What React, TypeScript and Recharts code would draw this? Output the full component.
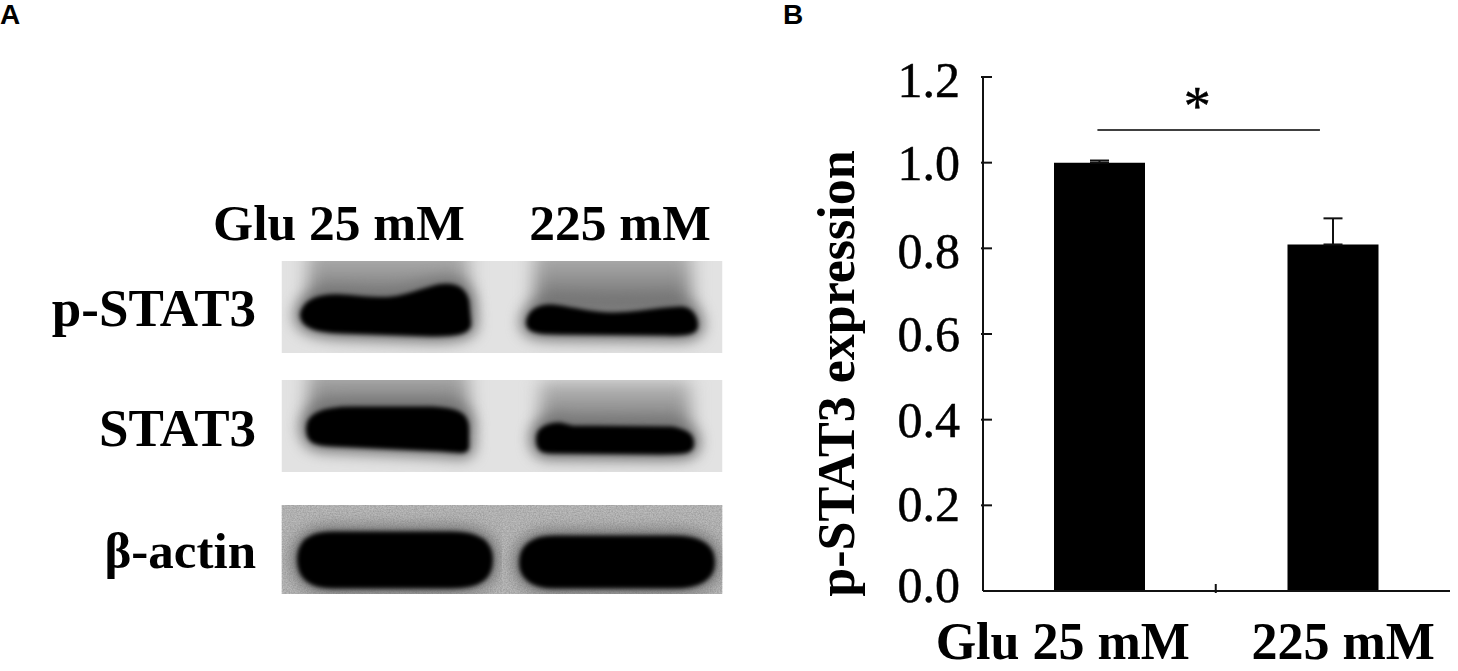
import { Bar, ComposedChart, ErrorBar, ReferenceDot, ReferenceLine, Scatter, ScatterChart, XAxis, YAxis } from "recharts";

const SERIF = '"Liberation Serif", serif';
const INK = "#111";

// panel B values
const groups = ["Glu 25 mM", "225 mM"];
const expression = [1.0, 0.809];
const expressionErr = [0.005, 0.061];
const yTicks = [0, 0.2, 0.4, 0.6, 0.8, 1.0, 1.2];
// bracket and star, as a share of the plot width
const sigSpan = [0.245, 0.7215];
const sigLevel = 1.076;
const starAt = 0.459;

// panel A lanes and rows
const lanes = ["Glu 25 mM", "225 mM"];
const rows = ["p-STAT3", "STAT3", "β-actin"];

const barData = groups.map((group, i) => ({
  group,
  value: expression[i],
  err: [0, expressionErr[i]],
}));
const blotData = rows.flatMap((_, row) => lanes.map((_, lane) => ({ lane, row })));

// hand placed label nudges, the original figure was not regular
const yLabelNudge: Record<string, number> = { "1.2": 20, "1.0": 17, "0.8": 20, "0.6": 17, "0.4": 17, "0.2": 16, "0.0": 11 };
const xLabelNudge = [-37, 10];
const laneLabelNudge = [-53, 8];
const rowFontSize = [53, 53, 51];

const panelSpan = [
  [-46.5, 45.5],
  [-48.5, 43.5],
  [-44.5, 44.5],
];
const panelFill = ["#e2e2e2", "#e2e2e2", "#bcbcbc"];

// band outlines, relative to the lane/row centre
const bandPaths = [
  [
    "M-91,7 C-88,-8 -72,-13 -50,-12 C-30,-11 -15,-8 0,-10 C20,-12 35,-21 50,-22.5 C65,-24 73,-18 76,-7 L78,14 C80,24 70,28 40,28 L-50,25 C-75,24 -91,20 -91,7Z",
    "M-85,15 C-84,3 -72,-3 -60,-2 C-40,0 -20,6 0,6 C25,6 50,0 70,0 C80,1 85,10 85,18 C85,26 75,28 55,27 L-55,26 C-75,26 -85,24 -85,15Z",
  ],
  [
    "M-85,0 C-85,-15 -68,-21 -40,-21 L40,-21 C65,-20 76,-15 76,0 L76,18 C76,25 70,24 50,22 L-60,17 C-78,16 -85,14 -85,0Z",
    "M-75,10 C-75,2 -68,-5 -52,-5 L-40,-2 L60,-1 C75,2 81,6 81,15 C81,24 75,25 50,25 L-60,24 C-70,24 -75,22 -75,10Z",
  ],
  [
    "M-94,10 C-94,-10 -80,-17 -60,-17 L60,-17 C87,-17 100,-8 100,10 C100,30 87,38 60,38 L-60,38 C-80,38 -94,30 -94,10Z",
    "M-92,13 C-92,-5 -78,-13 -58,-13 L62,-13 C87,-13 102,-5 102,13 C102,30 87,38 62,38 L-58,38 C-78,38 -92,30 -92,13Z",
  ],
];
// haze above the bands on the two stat3 rows: [x, width, y, height]
const hazeBoxes: (number[] | null)[][] = [
  [[-84, 160, -62, 72], [-78, 157, -62, 72]],
  [[-84, 160, -64, 62], [-72, 150, -47, 62]],
  [null, null],
];

function BlotBand(props: any) {
  const { cx, cy, payload } = props;
  const { lane, row } = payload;
  const [top, bottom] = panelSpan[row];
  const clipId = `blot-${row}-${lane}`;
  const haze = hazeBoxes[row][lane];
  return (
    <g transform={`translate(${cx},${cy})`}>
      <defs>
        <clipPath id={clipId}>
          <rect x={-110.5} y={top} width={221} height={bottom - top} />
        </clipPath>
        <linearGradient id={`${clipId}-haze`} x1="0" x2="0" y1="0" y2="1">
          <stop offset="0.2" stopColor="#aaaaaa" />
          <stop offset="0.9" stopColor="#686868" />
        </linearGradient>
        <filter id={`${clipId}-noise`} x="0" y="0" width="100%" height="100%">
          <feTurbulence type="fractalNoise" baseFrequency="0.7" numOctaves={2} seed={3} />
          <feColorMatrix values="0 0 0 0 0  0 0 0 0 0  0 0 0 0 0  0 0 0 1.2 -0.35" />
        </filter>
      </defs>
      <g clipPath={`url(#${clipId})`}>
        <rect x={-110.5} y={top} width={221} height={bottom - top} fill={panelFill[row]} />
        {row === 2 && (
          <rect x={-110.5} y={top} width={221} height={bottom - top} filter={`url(#${clipId}-noise)`} opacity={0.25} />
        )}
        {haze && (
          <rect x={haze[0]} y={haze[2]} width={haze[1]} height={haze[3]} fill={`url(#${clipId}-haze)`} style={{ filter: "blur(9px)" }} />
        )}
        <path d={bandPaths[row][lane]} fill="#777" stroke="#777" strokeWidth={14} style={{ filter: "blur(7px)" }} />
        <path d={bandPaths[row][lane]} fill="#000" stroke="#000" strokeWidth={2} style={{ filter: "blur(2px)" }} />
      </g>
    </g>
  );
}

const LaneTick = ({ x, y, payload }: any) => (
  <text x={x + laneLabelNudge[payload.value]} y={y - 5} textAnchor="middle" fontFamily={SERIF} fontWeight={700} fontSize={51.5} fill="#000">
    {lanes[payload.value]}
  </text>
);

const RowTick = ({ x, y, payload }: any) => (
  <text x={x - 24} y={y + 18 + (payload.value === 1 ? -1 : 0)} textAnchor="end" fontFamily={SERIF} fontWeight={700} fontSize={rowFontSize[payload.value]} fill="#000">
    {rows[payload.value]}
  </text>
);

const ValueTick = ({ x, y, payload }: any) => {
  const label = payload.value.toFixed(1);
  return (
    <g>
      {payload.value > 0 && <line x1={x} x2={x + 11} y1={y} y2={y} stroke={INK} strokeWidth={2} />}
      <text x={x - 21} y={y + yLabelNudge[label]} textAnchor="end" fontFamily={SERIF} fontSize={50} fill="#000" stroke="#000" strokeWidth={0.5}>
        {label}
      </text>
    </g>
  );
};

const GroupTick = ({ x, y, index, payload }: any) => (
  <g>
    {/* the only x tick sits between the two groups */}
    {index === 0 && <line x1={x + 116} x2={x + 116} y1={y} y2={y - 9} stroke={INK} strokeWidth={2} />}
    <text x={x + xLabelNudge[index]} y={y + 66} textAnchor="middle" fontFamily={SERIF} fontWeight={700} fontSize={52} fill="#000">
      {payload.value}
    </text>
  </g>
);

const ExpressionLabel = () => (
  <text transform="translate(54,373.5) rotate(-90)" textAnchor="middle" fontFamily={SERIF} fontWeight={700} fontSize={52} fill="#000">
    p-STAT3 expression
  </text>
);

const panelLetter = (left: number): React.CSSProperties => ({
  position: "absolute",
  left,
  top: 1,
  fontFamily: '"Liberation Sans", sans-serif',
  fontWeight: 700,
  fontSize: 28,
  lineHeight: "27px",
  color: "#000",
});

export default function App() {
  return (
    <div style={{ position: "absolute", left: 0, top: 0, width: 1458, height: 671, background: "#fff" }}>
      <div style={panelLetter(0)}>A</div>
      <div style={panelLetter(783)}>B</div>

      <div style={{ position: "absolute", left: 0, top: 0 }}>
        <ScatterChart width={760} height={671} margin={{ top: 197, right: 38, bottom: 61, left: 12 }}>
          <XAxis
            type="number"
            dataKey="lane"
            orientation="top"
            domain={[-0.5, 1.5]}
            ticks={[0, 1]}
            height={50}
            axisLine={false}
            tickLine={false}
            tickSize={0}
            tick={<LaneTick />}
          />
          <YAxis
            type="number"
            dataKey="row"
            reversed
            domain={[-0.5, 2.5]}
            ticks={[0, 1, 2]}
            width={270}
            axisLine={false}
            tickLine={false}
            tickSize={0}
            tick={<RowTick />}
          />
          <Scatter data={blotData} isAnimationActive={false} shape={(p: any) => <BlotBand {...p} />} />
        </ScatterChart>
      </div>

      <div style={{ position: "absolute", left: 800, top: 0 }}>
        <ComposedChart width={658} height={671} data={barData} margin={{ top: 77, right: 8, bottom: 20, left: 33 }}>
          <XAxis
            xAxisId="cat"
            dataKey="group"
            height={60}
            interval={0}
            axisLine={{ stroke: INK, strokeWidth: 2 }}
            tickLine={false}
            tickSize={0}
            tick={<GroupTick />}
          />
          <XAxis xAxisId="num" type="number" domain={[0, 1]} hide />
          <YAxis
            domain={[0, 1.2]}
            ticks={yTicks}
            width={150}
            interval={0}
            axisLine={{ stroke: INK, strokeWidth: 2 }}
            tickLine={false}
            tickSize={0}
            tick={<ValueTick />}
            label={<ExpressionLabel />}
          />
          <Bar xAxisId="cat" dataKey="value" fill="#000" barSize={91} isAnimationActive={false}>
            <ErrorBar dataKey="err" direction="y" width={9.5} stroke={INK} strokeWidth={2} isAnimationActive={false} />
          </Bar>
          <ReferenceLine
            xAxisId="num"
            segment={[
              { x: sigSpan[0], y: sigLevel },
              { x: sigSpan[1], y: sigLevel },
            ]}
            stroke="#000"
            strokeWidth={1.5}
          />
          <ReferenceDot
            xAxisId="num"
            x={starAt}
            y={1.09}
            r={0}
            shape={(p: any) => (
              <text x={p.cx} y={p.cy} textAnchor="middle" fontFamily={SERIF} fontSize={54} fill="#000" stroke="#000" strokeWidth={0.5}>
                *
              </text>
            )}
          />
        </ComposedChart>
      </div>
    </div>
  );
}
